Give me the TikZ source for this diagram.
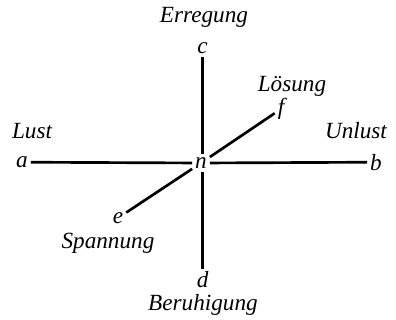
\documentclass[tikz,border=0pt]{standalone}
\usepackage{fontspec}
\setmainfont{Liberation Serif}
\usepackage{tikz}
\usetikzlibrary{positioning}

\begin{document}
\begin{tikzpicture}[
  pt/.style={inner sep=2pt, font=\fontsize{16.5}{18}\selectfont\itshape},
  word/.style={inner sep=0pt, font=\fontsize{16.5}{18}\selectfont\itshape},
  axis/.style={line width=1.9pt}
]
  \useasboundingbox (-5.025,-3.925) rectangle (4.875,4.075);

  %% --- Centre ---
  \node[pt] (n) at (0,0) {n};

  %% --- End points ---
  \node[pt] (a) at (-4.475, 0.02) {a};
  \node[pt] (b) at ( 4.375, 0.02) {b};
  \node[pt] (c) at ( 0.04,  2.875) {c};
  \node[pt] (d) at ( 0.04, -2.925) {d};
  \node[pt] (f) at ( 2.0,   1.35) {f};
  \node[pt] (e) at (-2.075,-1.375) {e};

  %% --- Words ---
  \node[word] (lust)   at (-4.225, 0.8)  {Lust};
  \node[word] (unlust) at ( 3.875, 0.8)  {Unlust};
  \node[word] (erreg)  at ( 0.075, 3.65) {Erregung};
  \node[word] (beruh)  at ( 0.05, -3.55) {Beruhigung};
  \node[word] (loes)   at ( 2.275, 1.925) {Lösung};
  \node[word] (spann)  at (-2.325,-2.0)  {Spannung};

  %% --- Axes ---
  \draw[axis] (a) -- (n);
  \draw[axis] (n) -- (b);
  \draw[axis] (c) -- (c |- n.north);
  \draw[axis] (d |- n.south) -- (d);
  \draw[axis] (e) -- (n);
  \draw[axis] (n) -- (f);

\end{tikzpicture}
\end{document}
